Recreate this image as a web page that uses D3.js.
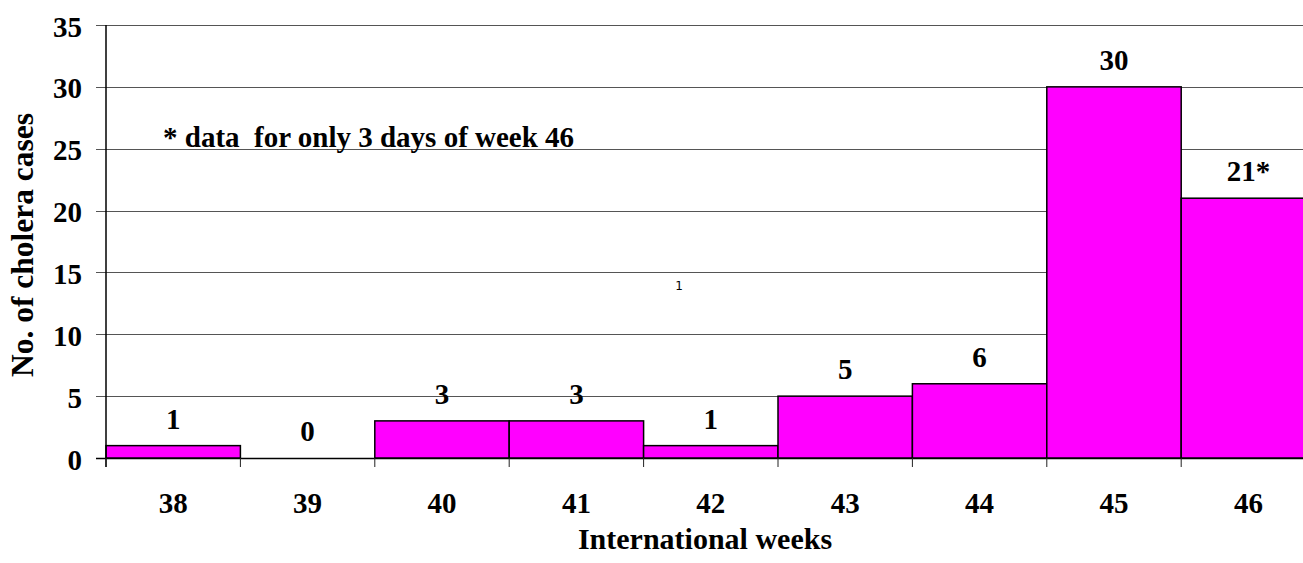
<!DOCTYPE html>
<html><head><meta charset="utf-8">
<script src="https://cdn.jsdelivr.net/npm/d3@7"></script>
<style>
html,body{margin:0;padding:0;background:#fff;overflow:hidden;}
</style></head>
<body><svg id="chart" width="1303" height="563"></svg>
<script>
const weeks = ["38","39","40","41","42","43","44","45","46"];
const cases = [1,0,3,3,1,5,6,30,21];
const valueLabels = ["1","0","3","3","1","5","6","30","21*"];
const yTicks = [0,5,10,15,20,25,30,35];
const xTitle = "International weeks";
const yTitle = "No. of cholera cases";
const note = "* data  for only 3 days of week 46";

(function(){
const FONT = "Liberation Serif";
const svg = d3.select("#chart");
const mLeft = 106, mTop = 25, mBottom = 458, bandW = 134.4;
const x = d3.scaleBand().domain(weeks).range([mLeft, mLeft + bandW*weeks.length]).padding(0);
const y = d3.scaleLinear().domain([0,35]).range([mBottom, mTop]);
const fs = 29;

function txt(sel){ return sel.attr("font-family", FONT).attr("font-weight","bold").attr("fill","#000"); }

svg.append("g").selectAll("line").data(yTicks).join("line")
  .attr("x1", mLeft-10).attr("x2", 1303)
  .attr("y1", d=>Math.round(y(d))+0.5).attr("y2", d=>Math.round(y(d))+0.5)
  .attr("stroke", d=> d===0 ? "#000" : "#555").attr("stroke-width", d=> d===0?1.5:1);

svg.append("g").selectAll("rect").data(weeks).join("rect")
  .attr("x", d=>x(d)).attr("width", x.bandwidth())
  .attr("y", (d,i)=>y(cases[i])).attr("height", (d,i)=>y(0)-y(cases[i]))
  .attr("fill", "#ff00ff").attr("stroke", "#000").attr("stroke-width", 1.5);

svg.append("line").attr("x1", mLeft).attr("x2", mLeft).attr("y1", mTop).attr("y2", mBottom+9)
  .attr("stroke","#000").attr("stroke-width",1.5);
const bounds = weeks.map(w=>x(w)).concat([x(weeks[weeks.length-1])+x.bandwidth()]);
svg.append("g").selectAll("line").data(bounds).join("line")
  .attr("x1", d=>d).attr("x2", d=>d).attr("y1", mBottom).attr("y2", mBottom+9)
  .attr("stroke","#222").attr("stroke-width",1);

txt(svg.append("g").selectAll("text").data(yTicks).join("text"))
  .attr("x", 82).attr("y", d=>y(d)+11.5)
  .attr("text-anchor","end").attr("font-size", fs).text(d=>d);

txt(svg.append("g").selectAll("text").data(weeks).join("text"))
  .attr("x", d=>x(d)+x.bandwidth()/2).attr("y", 513)
  .attr("text-anchor","middle").attr("font-size", fs).text(d=>d);

txt(svg.append("g").selectAll("text").data(weeks).join("text"))
  .attr("x", d=>x(d)+x.bandwidth()/2).attr("y", (d,i)=>y(cases[i])-17)
  .attr("text-anchor","middle").attr("font-size", fs).text((d,i)=>valueLabels[i]);

txt(svg.append("text")).attr("x", 163).attr("y", 147).attr("font-size", fs)
  .style("white-space","pre").text(note);

svg.append("text").attr("x", 679).attr("y", 290).attr("text-anchor","middle")
  .attr("font-family","DejaVu Sans").attr("font-size",12).attr("fill","#000").text("1");

txt(svg.append("text")).attr("x", 705).attr("y", 549).attr("text-anchor","middle")
  .attr("font-size", 30).text(xTitle);
txt(svg.append("text")).attr("transform", `translate(33,245) rotate(-90)`)
  .attr("text-anchor","middle").attr("font-size", 31.5).text(yTitle);
})();
</script></body></html>
